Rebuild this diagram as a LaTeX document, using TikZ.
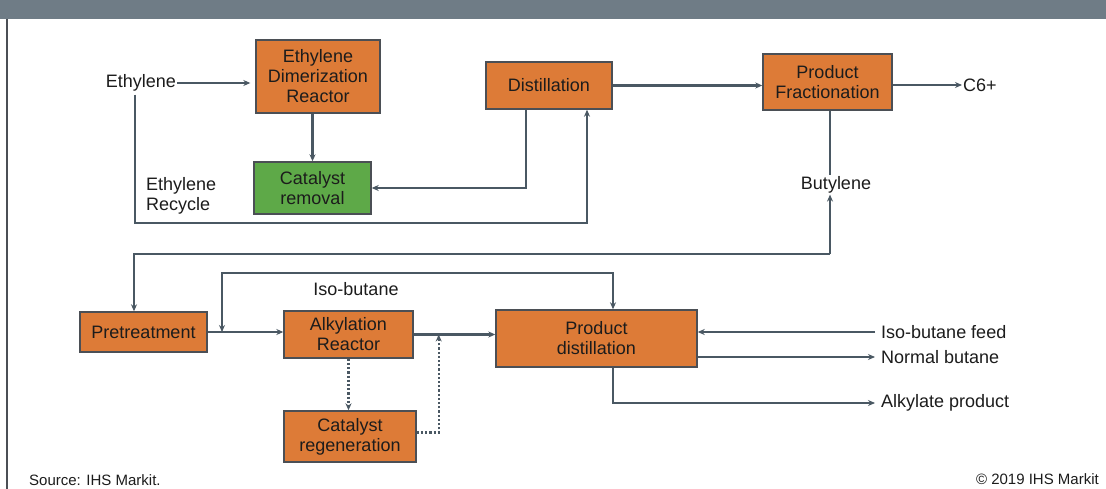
\documentclass[tikz,border=0pt]{standalone}
\usepackage{fontspec}
\setmainfont{Liberation Sans}
\usetikzlibrary{arrows.meta,calc}
\definecolor{hdr}{HTML}{6F7C86}
\definecolor{boxor}{HTML}{DD7B37}
\definecolor{boxgr}{HTML}{5EA948}
\definecolor{edge}{HTML}{4B4F55}
\definecolor{flow}{HTML}{4A5863}
\definecolor{ink}{HTML}{1C1C1C}
\tikzset{
  proc/.style={draw=edge, line width=1.4pt, fill=boxor, text=ink, align=center, inner sep=0pt,
    font=\fontsize{18}{20}\selectfont},
  greenproc/.style={proc, fill=boxgr},
  lbl/.style={text=ink, inner sep=1pt, font=\fontsize{18}{20}\selectfont},
  small/.style={text=ink, inner sep=0pt, font=\fontsize{15}{17}\selectfont},
  flowline/.style={draw=flow, line width=2.3pt},
  arr/.style={flowline, -{Stealth[length=7pt,width=6pt]}},
  arrb/.style={flowline, {Stealth[length=7pt,width=6pt]}-{Stealth[length=7pt,width=6pt]}},
  dotarr/.style={arr, dash pattern=on 2.2pt off 2pt, line width=2.4pt}
}
\begin{document}
\begin{tikzpicture}[x=1pt,y=-1pt]
\useasboundingbox (0,0) rectangle (1106,489);
\fill[white] (0,0) rectangle (1106,489);
\fill[hdr] (0,0) rectangle (1106,19);
\draw[edge, line width=1.4pt] (7,19) -- (7,489);

% process boxes
\node[proc, minimum width=124pt, minimum height=73pt] (reactor) at (318,76.5) {Ethylene\\Dimerization\\Reactor};
\node[greenproc, minimum width=117pt, minimum height=52pt] (removal) at (312.5,188) {Catalyst\\removal};
\node[proc, minimum width=126pt, minimum height=47pt] (dist) at (549,85.5) {Distillation};
\node[proc, minimum width=129pt, minimum height=56pt] (frac) at (827.5,82) {Product\\Fractionation};
\node[proc, minimum width=127pt, minimum height=40pt] (pre) at (143.5,332) {Pretreatment};
\node[proc, minimum width=129pt, minimum height=47pt] (alk) at (348.5,334.5) {Alkylation\\Reactor};
\node[proc, minimum width=132pt, minimum height=51pt] (regen) at (350,436.5) {Catalyst\\regeneration};
\node[proc, minimum width=201pt, minimum height=57pt] (pdist) at (596.5,338.5) {Product\\distillation};

% labels
\node[lbl, anchor=east] (eth) at (177,83) {Ethylene};
\node[lbl, anchor=west, align=left] (recyc) at (145,196) {Ethylene\\Recycle};
\node[lbl] (but) at (836,185) {Butylene};
\node[lbl] (iso) at (356,289) {Iso-butane};
\node[lbl, anchor=west] (c6) at (962,85) {C6+};
\node[lbl, anchor=west] (ibf) at (880,332) {Iso-butane feed};
\node[lbl, anchor=west] (nb) at (880,357) {Normal butane};
\node[lbl, anchor=west] (ap) at (880,403) {Alkylate product};
\node[small, anchor=west] (src) at (29,480) {Source: IHS Markit.};
\node[small, anchor=east] (copy) at (1099,479) {\textcopyright{} 2019 IHS Markit};

% coordinates for free ends / junctions
\coordinate (rc) at (587,223);
\coordinate (bc) at (830,254);
\coordinate (ibj) at (222,332);
\coordinate (ibt) at (222,273);
\coordinate (dj) at ([xshift=25pt]alk.east);

% upper section
\draw[arr, shorten >=5pt] (eth.east) -- (reactor.west |- eth.east);
\draw[arr] (reactor.south -| removal.north) -- (removal.north);
\draw[arr] ([xshift=-23pt]dist.south) |- (removal.east);
\draw[arr] ([xshift=-6pt,yshift=-2pt]eth.south) |- (rc) -- ([xshift=38pt]dist.south);
\draw[arr] (dist.east) -- (dist.east -| frac.west);
\draw[arr] (frac.east |- c6.west) -- (c6.west);
\draw[flowline] (frac.south -| bc) -- (bc |- but.north);

% butylene loop
\draw[arr] (bc) -- (bc |- but.south);
\draw[arr] (bc) -| ([xshift=-9.5pt]pre.north);

% lower section
\draw[arr] (pre.east) -- (pre.east -| alk.west);
\draw[arrb] (ibj) -- (ibt) -| ([xshift=16.5pt]pdist.north);
\draw[arr] (alk.east) -- (alk.east -| pdist.west);
\draw[dotarr] (alk.south) -- (alk.south |- regen.north);
\draw[dotarr] ([yshift=4pt]regen.east) -| (dj);
\draw[arr, shorten <=5pt] (ibf.west) -- (pdist.east |- ibf.west);
\draw[arr, shorten >=5pt] (pdist.east |- nb.west) -- (nb.west);
\draw[arr, shorten >=5pt] ([xshift=16.5pt]pdist.south) |- (ap.west);
\end{tikzpicture}
\end{document}
